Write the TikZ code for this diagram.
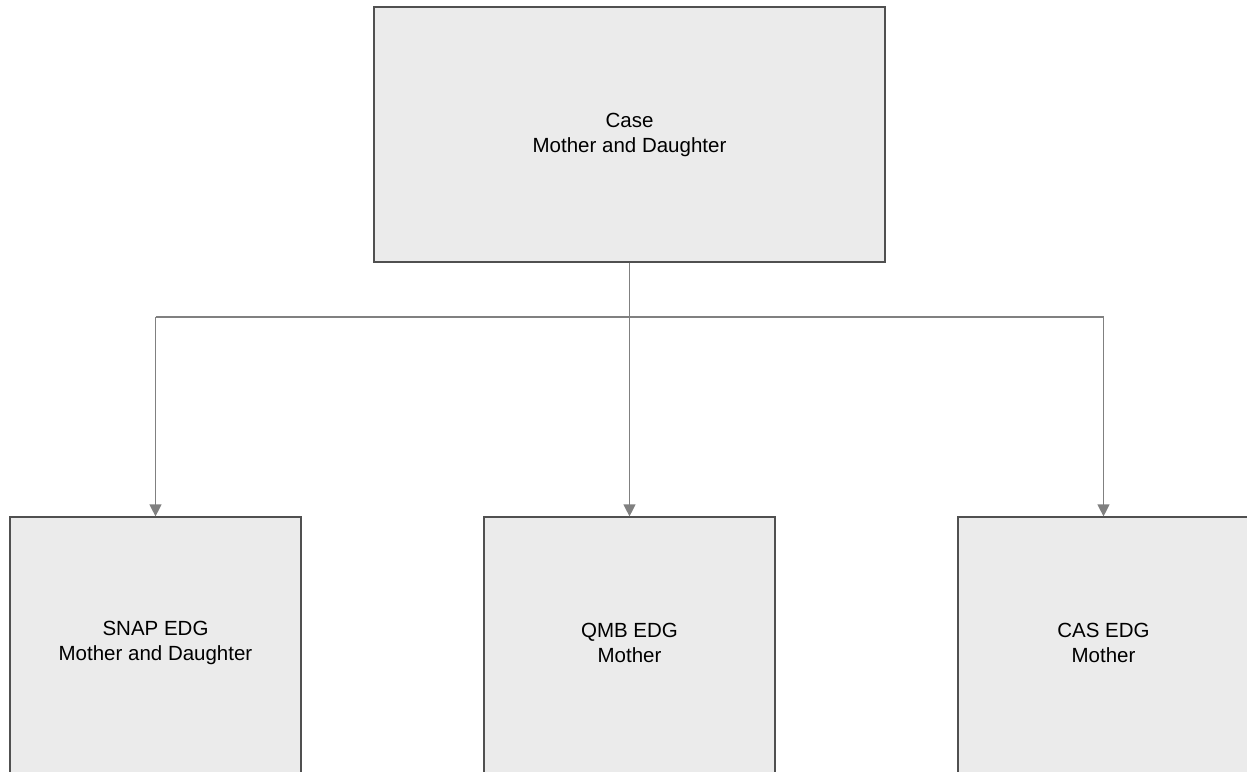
\documentclass[tikz,border=0pt]{standalone}
\usepackage{fontspec}
\setmainfont{Liberation Sans}
\usetikzlibrary{arrows.meta,positioning}

\definecolor{riempi}{RGB}{235,235,235}
\definecolor{bordo}{RGB}{80,80,80}
\definecolor{linea}{RGB}{128,128,128}

\tikzset{
  scatola/.style={draw=bordo, line width=1.2pt, fill=riempi, inner sep=0pt},
  testo/.style={align=center, inner sep=0pt, font=\fontsize{20.5}{25}\selectfont},
  freccia/.style={draw=linea, line width=1.2pt, -{Triangle[width=12pt,length=12pt]}},
  ramo/.style={draw=linea, line width=1.2pt}
}

\begin{document}
\begin{tikzpicture}[x=1pt, y=-1pt]
        % area visibile = dimensioni del riferimento
        \useasboundingbox (0,0) rectangle (1247,771);
        \clip (0,0) rectangle (1247,771);

        % scatole (le tre in basso escono dal bordo inferiore)
        \node[scatola, testo, minimum width=511pt, minimum height=255pt] (caso) at (629.5,134.5) {Case\\Mother and Daughter};
        \node[scatola, minimum width=291pt, minimum height=280pt] (snap) at (155.5,657) {};
        \node[scatola, minimum width=291pt, minimum height=280pt] (qmb) at (629.5,657) {};
        \node[scatola, minimum width=291pt, minimum height=280pt] (cas) at (1103.5,657) {};

        % testi delle scatole in basso, al centro della parte visibile
        \node[testo] (tsnap) at ([yshift=14pt]snap.center) {SNAP EDG\\Mother and Daughter};
        \node[testo] (tqmb) at ([yshift=14pt]qmb.center) {QMB EDG\\Mother};
        \node[testo] (tcas) at ([yshift=14pt]cas.center) {CAS EDG\\Mother};

        % collegamenti: tronco e rami
        \coordinate (nodo) at (caso.south |- 0,317);
        \draw[ramo] (caso.south) -- (nodo);
        \draw[freccia] (nodo -| snap.north) -- (snap.north);
        \draw[freccia] (nodo) -- (qmb.north);
        \draw[freccia] (nodo -| cas.north) -- (cas.north);
        \draw[ramo] (nodo -| snap.north) -- (nodo -| cas.north);
\end{tikzpicture}
\end{document}
